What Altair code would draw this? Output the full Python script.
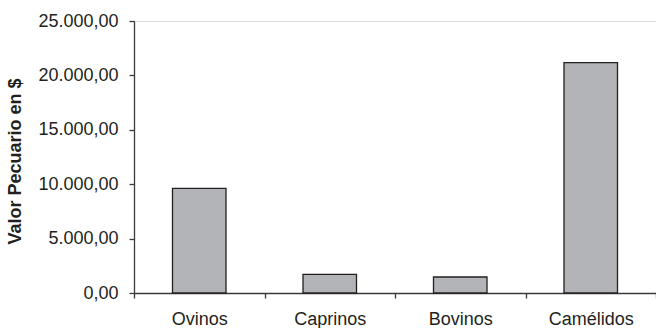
import altair as alt
import pandas as pd

categorias = ["Ovinos", "Caprinos", "Bovinos", "Camélidos"]
valores = [9620, 1720, 1470, 21170]
ticks_y = [0, 5000, 10000, 15000, 20000, 25000]

df = pd.DataFrame({"Especie": categorias, "Valor": valores})

FONT = "Liberation Sans"
TXT = "#231f20"

chart = (
    alt.Chart(df)
    .mark_bar(width=alt.RelativeBandSize(0.41), fill="#b3b4b8", stroke="#231f20", strokeWidth=1.3)
    .encode(
        x=alt.X(
            "Especie:N",
            sort=categorias,
            scale=alt.Scale(paddingInner=0, paddingOuter=0),
            axis=alt.Axis(
                title=None,
                labelAngle=0,
                tickBand="extent",
                labelFont=FONT,
                labelFontSize=18,
                labelColor=TXT,
                labelPadding=12,
                tickSize=5,
                tickColor="#3a3a3a",
                domainColor="#3a3a3a",
                domainWidth=1.3,
                tickWidth=1.3,
            ),
        ),
        y=alt.Y(
            "Valor:Q",
            scale=alt.Scale(domain=[0, 25000], nice=False),
            axis=alt.Axis(
                title="Valor Pecuario en $",
                values=ticks_y,
                format=",.2f",
                grid=False,
                labelFont=FONT,
                labelFontSize=18,
                labelColor=TXT,
                labelPadding=11,
                tickSize=5,
                tickColor="#3a3a3a",
                domainColor="#3a3a3a",
                domainWidth=1.3,
                tickWidth=1.3,
                titleFont=FONT,
                titleFontSize=18,
                titleFontWeight="bold",
                titleColor=TXT,
                titlePadding=13,
                titleY=140,
            ),
        ),
    )
    .properties(
        width=522,
        height=272,
        autosize=alt.AutoSizeParams(type="none"),
        padding={"left": 134, "top": 21, "right": 0, "bottom": 35},
    )
    .configure_view(stroke=None)
    .configure(
        locale={
            "number": {
                "decimal": ",",
                "thousands": ".",
                "grouping": [3],
                "currency": ["$", ""],
            }
        }
    )
)

chart.save("out.html", embed_options={"renderer": "svg", "actions": False})
